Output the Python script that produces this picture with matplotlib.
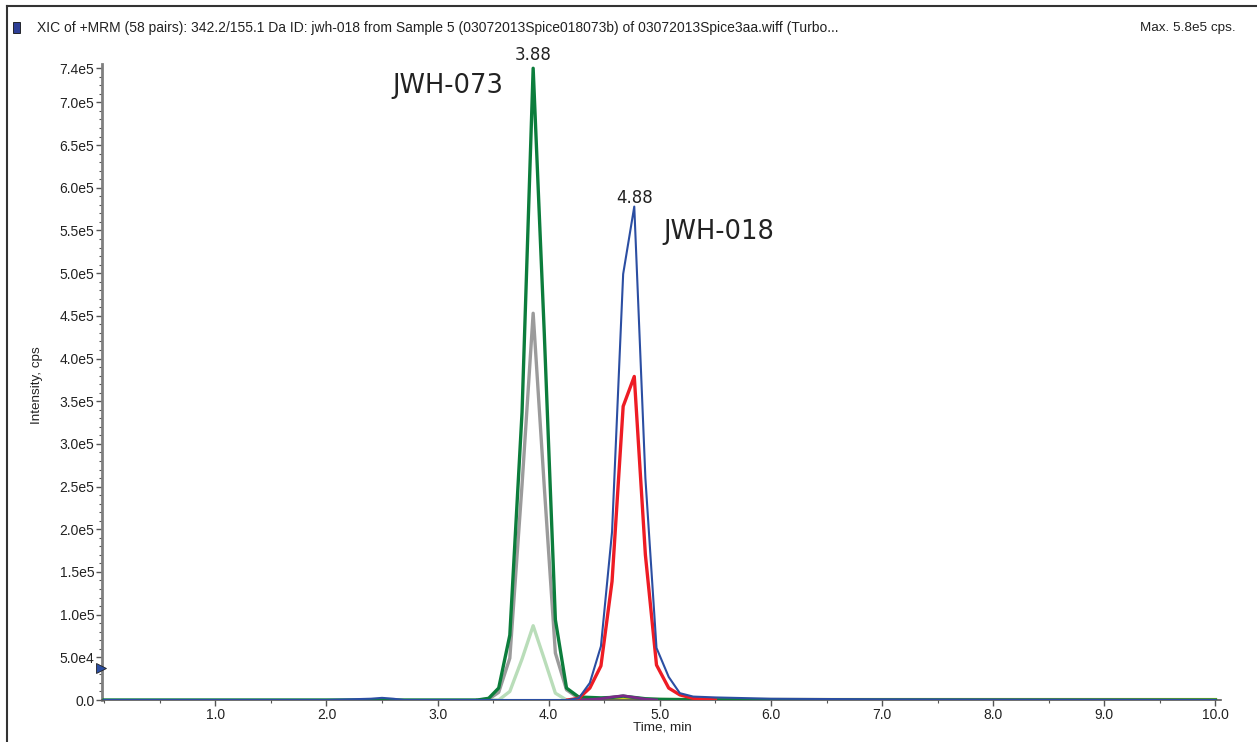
import numpy as np
import matplotlib.pyplot as plt
from matplotlib.patches import Rectangle
from matplotlib.ticker import MultipleLocator, FixedLocator

# ============================================================
# Datos leidos del cromatograma (tiempo en min, intensidad en cps)
# ============================================================
# JWH-018 (cuantificador, azul) - incluye la linea base completa
t_azul = [0.0, 1.0, 2.0, 2.4, 2.5, 2.6, 2.7, 3.0, 4.0, 4.17, 4.27, 4.37, 4.47,
          4.57, 4.67, 4.77, 4.87, 4.97, 5.08, 5.18, 5.3, 5.5, 6.0, 7.0, 8.0, 9.0, 10.0]
i_azul = [0, 0, 0, 1500, 2500, 1500, 0, 0, 0, 0, 2000, 2.0e4, 6.3e4,
          1.97e5, 4.99e5, 5.78e5, 2.6e5, 6.1e4, 2.7e4, 8e3, 4e3, 3e3, 1500, 800, 500, 300, 0]

# JWH-018 (calificador, rojo)
t_rojo = [4.17, 4.27, 4.37, 4.47, 4.57, 4.67, 4.77, 4.87, 4.97, 5.08, 5.18, 5.3, 5.5]
i_rojo = [0, 2000, 1.4e4, 4.0e4, 1.39e5, 3.44e5, 3.79e5, 1.7e5, 4.1e4, 1.4e4, 6e3, 2000, 0]

# JWH-073 (cuantificador, verde oscuro)
t_verde = [0.0, 3.36, 3.46, 3.55, 3.65, 3.76, 3.86, 3.96, 4.06, 4.16, 4.27, 4.37,
           4.47, 4.57, 4.67, 4.77, 4.87, 5.0, 5.3, 6.0, 10.0]
i_verde = [0, 0, 2000, 1.4e4, 7.6e4, 3.37e5, 7.4e5, 4.3e5, 9.4e4, 1.4e4, 3.5e3, 3e3,
           2.5e3, 3e3, 4.5e3, 3e3, 1.5e3, 800, 300, 0, 0]

# JWH-073 (calificador, gris)
t_gris = [3.36, 3.46, 3.55, 3.65, 3.76, 3.86, 3.96, 4.06, 4.16, 4.27, 4.4]
i_gris = [0, 1000, 9e3, 4.9e4, 2.52e5, 4.53e5, 2.5e5, 5.5e4, 1.2e4, 2000, 0]

# tercer transicion (verde claro)
t_verde_claro = [3.46, 3.55, 3.65, 3.76, 3.86, 3.96, 4.06, 4.16]
i_verde_claro = [0, 0, 1.0e4, 4.8e4, 8.7e4, 4.8e4, 8e3, 0]

# transicion menor (morado)
t_morado = [4.27, 4.37, 4.47, 4.57, 4.67, 4.77, 4.87, 4.97]
i_morado = [0, 500, 1500, 3500, 5000, 3000, 1000, 0]

# linea base amarilla
t_amarillo = [4.27, 5.0, 6.0, 7.0, 8.0, 9.0, 10.0]
i_amarillo = [0, 0, 0, 0, 0, 0, 0]

y_ticks = [5e4, 1e5, 1.5e5, 2e5, 2.5e5, 3e5, 3.5e5, 4e5, 4.5e5, 5e5, 5.5e5, 6e5, 6.5e5, 7e5, 7.4e5]
y_labels = ["5.0e4", "1.0e5", "1.5e5", "2.0e5", "2.5e5", "3.0e5", "3.5e5", "4.0e5",
            "4.5e5", "5.0e5", "5.5e5", "6.0e5", "6.5e5", "7.0e5", "7.4e5"]
x_ticks = [1.0, 2.0, 3.0, 4.0, 5.0, 6.0, 7.0, 8.0, 9.0, 10.0]

titulo = ("XIC of +MRM (58 pairs): 342.2/155.1 Da ID: jwh-018 from Sample 5 "
          "(03072013Spice018073b) of 03072013Spice3aa.wiff (Turbo...")

# ============================================================
# Figura
# ============================================================
W, H = 1257, 742
fuente_normal = ["Liberation Sans", "DejaVu Sans"]
plt.rcParams["font.family"] = fuente_normal

fig = plt.figure(figsize=(W / 100, H / 100), dpi=100)
ax = fig.add_axes([102 / W, (H - 700) / H, (1221 - 102) / W, (700 - 64) / H])

ax.plot(t_amarillo, i_amarillo, color="#d6d31e", lw=3.0, zorder=1)
ax.plot(t_verde_claro, i_verde_claro, color="#b9ddb9", lw=2.4, zorder=2)
ax.plot(t_gris, i_gris, color="#9b9b9b", lw=2.4, zorder=3)
ax.plot(t_verde, i_verde, color="#0c7d3c", lw=2.4, zorder=4)
ax.plot(t_morado, i_morado, color="#7a2a88", lw=2.0, zorder=5)
ax.plot(t_rojo, i_rojo, color="#ee1c24", lw=2.4, zorder=6)
ax.plot(t_azul, i_azul, color="#2b4ea2", lw=1.5, zorder=7)

ax.set_xlim(-0.02, 10.05)
ax.set_ylim(0, 7.45e5)

for s in ["top", "right"]:
    ax.spines[s].set_visible(False)
ax.spines["left"].set_color("#7f7f7f")
ax.spines["left"].set_linewidth(2.0)
ax.spines["bottom"].set_color("#555555")
ax.spines["bottom"].set_linewidth(1.2)

ax.yaxis.set_major_locator(FixedLocator([0] + y_ticks))
ax.set_yticklabels(["0.0"] + y_labels)
ax.yaxis.set_minor_locator(MultipleLocator(1e4))
ax.xaxis.set_major_locator(FixedLocator(x_ticks))
ax.set_xticklabels([f"{v:.1f}" for v in x_ticks])
ax.xaxis.set_minor_locator(MultipleLocator(0.5))

ax.tick_params(axis="both", which="major", direction="out", length=4, width=1,
               color="#555555", labelsize=10, labelcolor="#222222", pad=1.5)
ax.tick_params(axis="both", which="minor", direction="out", length=2.5, width=0.8,
               color="#555555")

# marcador triangulo en el eje y
ax.plot([-0.03], [3.75e4], marker=">", ms=7, color="#2b4ea2", mec="#222222",
        mew=0.6, clip_on=False, zorder=10)

# etiquetas de los picos
ax.text(3.86, 7.45e5, "3.88", ha="center", va="bottom", fontsize=12,
        family="DejaVu Sans", color="#222222", clip_on=False)
ax.text(4.77, 5.78e5, "4.88", ha="center", va="bottom", fontsize=12,
        family="DejaVu Sans", color="#222222")
ax.text(3.09, 7.19e5, "JWH-073", ha="center", va="center", fontsize=18.5,
        family="DejaVu Sans", color="#222222")
ax.text(5.03, 5.48e5, "JWH-018", ha="left", va="center", fontsize=18.5,
        family="DejaVu Sans", color="#222222")

# textos de la figura
fig.text(37 / W, 1 - 28 / H, titulo, ha="left", va="center", fontsize=10,
         color="#222222")
fig.text(1236 / W, 1 - 28 / H, "Max. 5.8e5 cps.", ha="right", va="center",
         fontsize=9.7, color="#222222")
fig.text(37 / W, 1 - 385 / H, "Intensity, cps", ha="center", va="center",
         rotation=90, fontsize=9.7, color="#222222")
fig.text(662 / W, 1 - 728 / H, "Time, min", ha="center", va="center",
         fontsize=9.7, color="#222222")

# icono cuadrado azul
fig.patches.append(Rectangle((13 / W, 1 - 33 / H), 7 / W, 11 / H,
                             transform=fig.transFigure, facecolor="#2e3f96",
                             edgecolor="#111111", lw=0.6))

# marco exterior
fig.add_artist(plt.Line2D([7 / W, 7 / W], [0, 1 - 6 / H], transform=fig.transFigure,
                          color="#333333", lw=1.5))
fig.add_artist(plt.Line2D([7 / W, 1], [1 - 6 / H, 1 - 6 / H], transform=fig.transFigure,
                          color="#333333", lw=1.5))

fig.savefig("out.png", dpi=100)
